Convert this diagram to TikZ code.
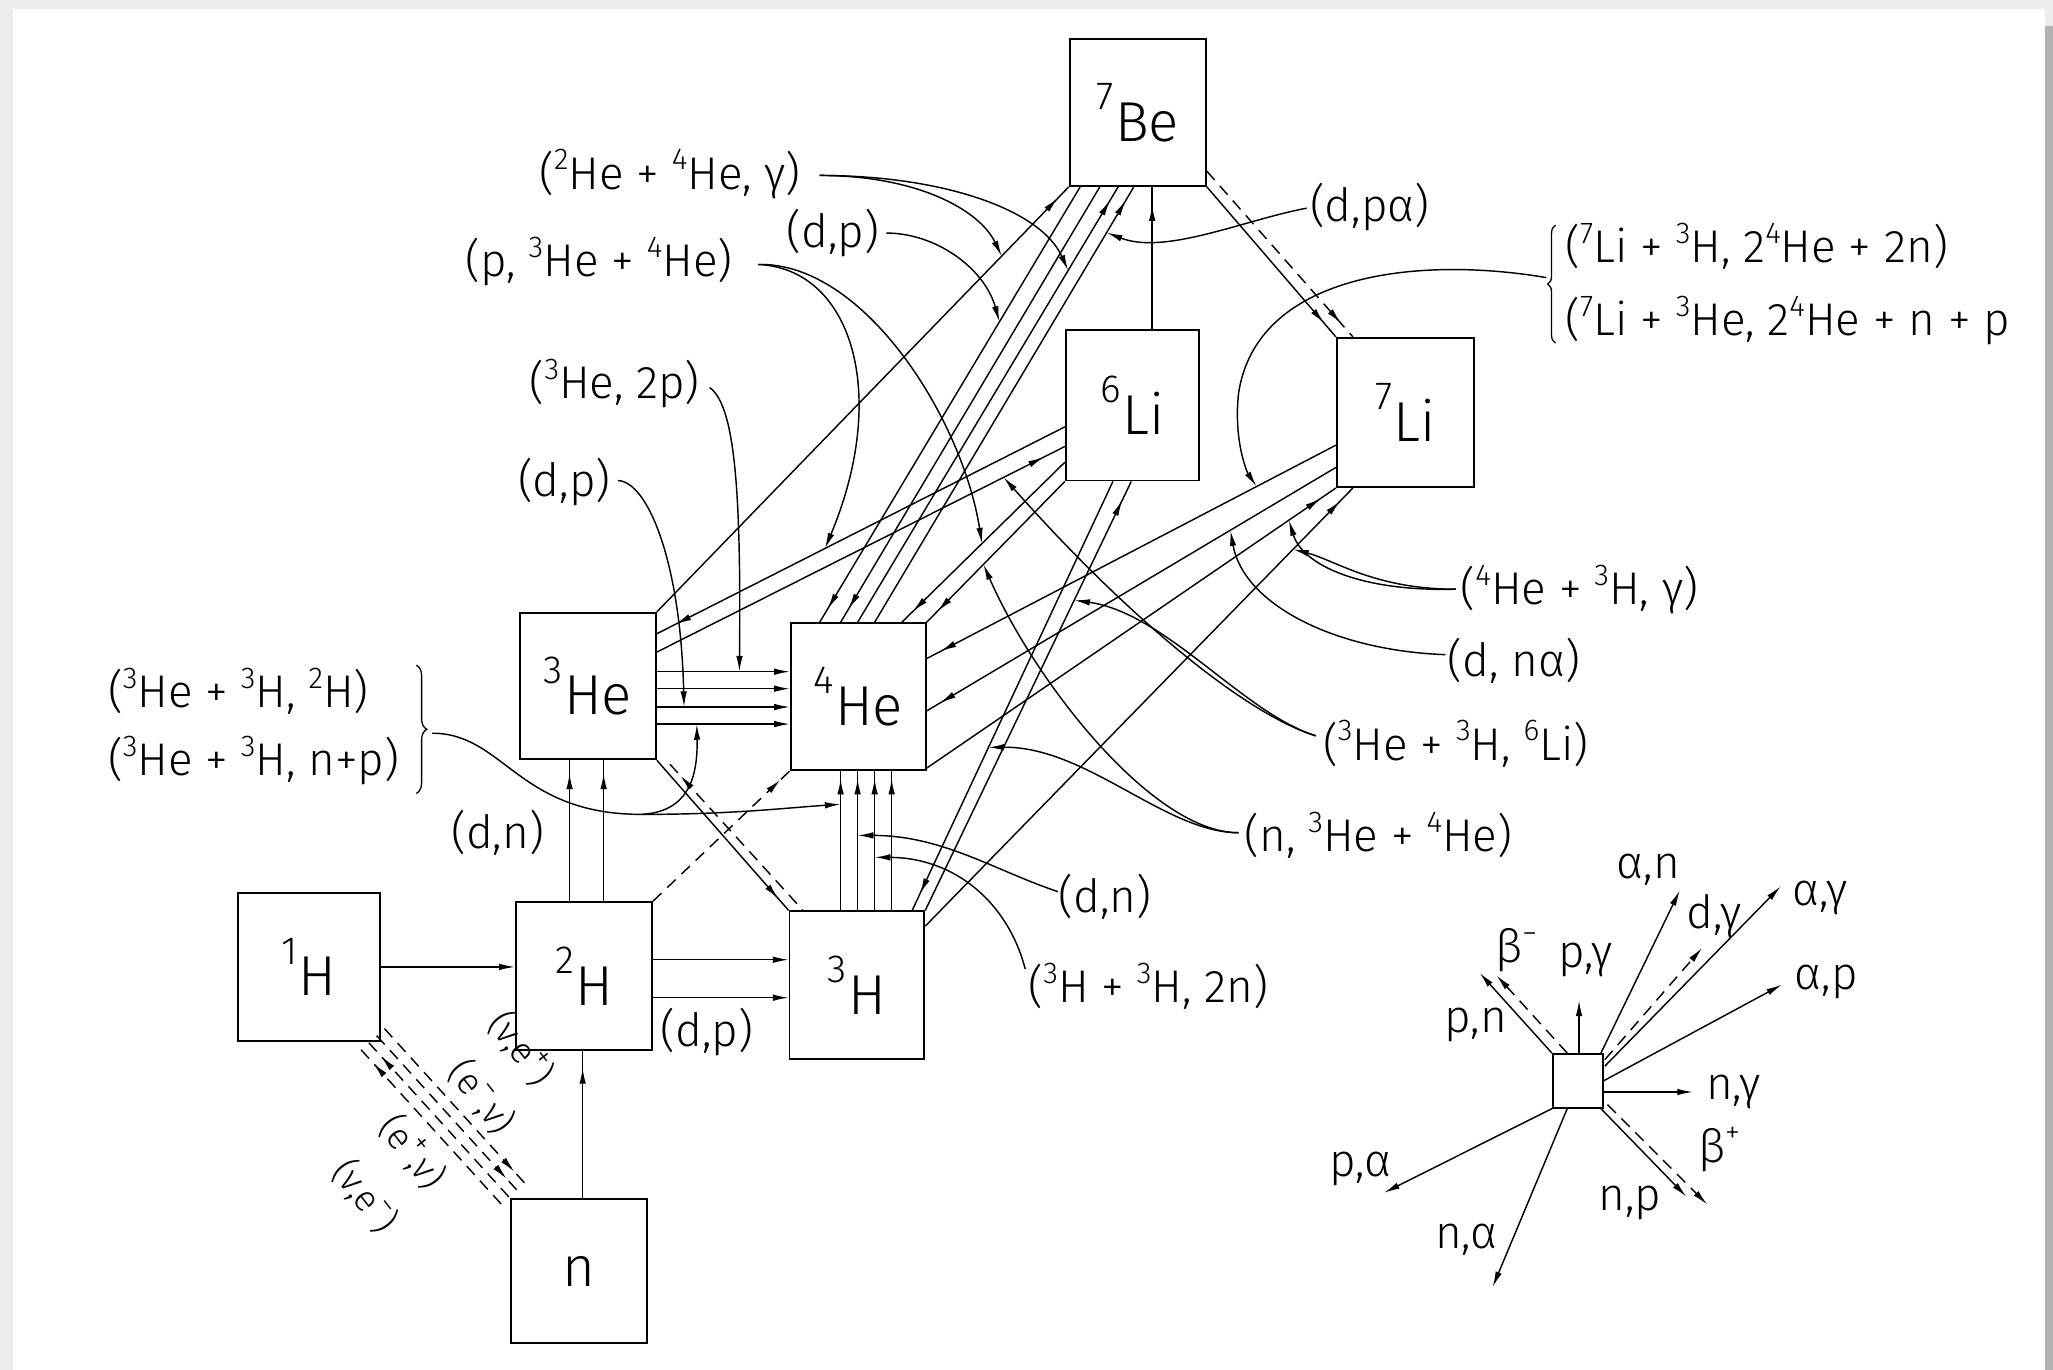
\documentclass[tikz,border=0pt]{standalone}
\usepackage{fontspec}
\setmainfont{Fira Sans Light}
\usetikzlibrary{arrows.meta,decorations.markings,decorations.pathreplacing,calc}
\newcommand{\iso}[2]{\raisebox{24pt}{\fontsize{30}{30}\selectfont #1}\kern1pt{\fontsize{43}{43}\selectfont #2}}
\newcommand{\supx}[1]{\raisebox{0.42em}{\fontsize{23}{23}\selectfont #1}}
\begin{document}
\begin{tikzpicture}[x=1pt,y=-1pt,line width=1.1pt,
 box/.style={draw,line width=1.4pt,inner sep=0pt},
 lab/.style={inner sep=0pt,font=\fontsize{35}{38}\selectfont},
 nlab/.style={inner sep=0pt,font=\fontsize{28}{30}\selectfont,rotate=-52},
 arr/.style={-{Latex[length=12pt,width=5pt]}},
 dsh/.style={dash pattern=on 9pt off 6pt},
 ahead/.style={postaction={decorate,decoration={markings,mark=at position #1 with {\arrow{Latex[length=12pt,width=5pt]}}}}},
 aback/.style={postaction={decorate,decoration={markings,mark=at position #1 with {\arrowreversed{Latex[length=12pt,width=5pt]}}}}},
]
% page background
\fill[gray!14] (0,0) rectangle (1568,1046);
\fill[white] (10,7) rectangle (1562,1046);
\fill[gray!60] (1562,20) rectangle (1568,1046);
\useasboundingbox (0,0) rectangle (1568,1046);

% boxes
\node[box,minimum width=104pt,minimum height=112pt] (be7) at (869,86) {\iso{7}{Be}};
\node[box,minimum width=102pt,minimum height=115pt] (li6) at (865,309.5) {\iso{6}{Li}};
\node[box,minimum width=105pt,minimum height=114pt] (li7) at (1073.5,315) {\iso{7}{Li}};
\node[box,minimum width=104pt,minimum height=112pt] (he3) at (449,524) {\iso{3}{He}};
\node[box,minimum width=103pt,minimum height=112pt] (he4) at (655.5,532) {\iso{4}{He}};
\node[box,minimum width=108pt,minimum height=113pt] (h1) at (236,738.5) {\iso{1}{H}};
\node[box,minimum width=104pt,minimum height=113pt] (h2) at (446,745.5) {\iso{2}{H}};
\node[box,minimum width=103pt,minimum height=113pt] (h3) at (654.5,752.5) {\iso{3}{H}};
\node[box,minimum width=104pt,minimum height=110pt] (nn) at (442,971) {\fontsize{43}{43}\selectfont n};
\node[box,minimum width=38pt,minimum height=41pt] (sm) at (1205,825.5) {};

% ---- reaction lines ----
\draw[arr] (h1.east) -- (h1.east -| h2.west);
\draw[ahead=-13pt] ($(nn.north)+(3,0)$) -- ($(h2.south)+(-1,0)$);
\draw[arr] ($(h2.east)+(0,-12.5)$) -- ($(h3.west)+(0,-19.5)$);
\draw[arr] ($(h2.east)+(0,16.5)$) -- ($(h3.west)+(0,9.5)$);
\draw[ahead=-10pt] ($(h2.north)+(-11,0)$) -- ($(he3.south)+(-14,0)$);
\draw[ahead=-10pt] ($(h2.north)+(15,0)$) -- ($(he3.south)+(12,0)$);
\draw[dsh,ahead=-10pt] (h2.north east) -- (he4.south west);
\draw[ahead=-12pt] (he3.south east) -- (h3.north west);
\draw[dsh,aback=12pt] ($(he3.south east)+(10,3)$) -- ($(h3.north west)+(11,0)$);
\foreach \a/\b in {-11/-19,2/-6,16/8,29/21}
  \draw[arr] ($(he3.east)+(0,\a)$) -- ($(he4.west)+(0,\b)$);
\foreach \a/\b in {-12.5/-13.5,0.5/-0.5,13.5/12.5,26.5/25.5}
  \draw[ahead=-6pt] ($(h3.north)+(\a,0)$) -- ($(he4.south)+(\b,0)$);
\draw[ahead=-12pt] (he3.north east) -- (be7.south west);
\draw[aback=16pt] ($(he3.east)+(0,-40)$) -- ($(li6.west)+(0,16.5)$);
\draw[ahead=-18pt] ($(he3.east)+(0,-26)$) -- ($(li6.west)+(0,31.5)$);
% 7Be <-> 4He bundle
\draw[ahead=-12pt] ($(be7.south)+(-44,0)$) -- ($(he4.north)+(-29.5,0)$);
\draw[ahead=-12pt] ($(be7.south)+(-29,0)$) -- ($(he4.north)+(-13.5,0)$);
\draw[ahead=-12pt] ($(he4.north)+(-0.5,0)$) -- ($(be7.south)+(-15,0)$);
\draw[ahead=-12pt] ($(he4.north)+(12.5,0)$) -- ($(be7.south)+(-3,0)$);
% 6Li -> 4He
\draw[ahead=-12pt] ($(li6.west)+(0,43.5)$) -- ($(he4.north east)+(-19,0)$);
\draw[ahead=-12pt] (li6.south west) -- (he4.north east);
% 6Li -> 7Be
\draw[ahead=-14pt] ($(li6.north)+(15,0)$) -- ($(be7.south)+(11,0)$);
% 7Be -> 7Li
\draw[ahead=-14pt] (be7.south east) -- (li7.north west);
\draw[dsh,ahead=-14pt] ($(be7.south east)+(0,-12)$) -- ($(li7.north west)+(13,0)$);
% 7Li <-> 4He, 3H
\draw[ahead=-12pt] ($(li7.west)+(0,25)$) -- ($(he4.east)+(0,-29)$);
\draw[ahead=-12pt] ($(li7.west)+(0,42)$) -- ($(he4.east)+(0,11)$);
\draw[ahead=-14pt] ($(he4.south east)+(0,-2)$) -- (li7.south west);
\draw[ahead=-14pt] ($(h3.north east)+(0,12)$) -- ($(li7.south west)+(13,0)$);
% 6Li <-> 3H
\draw[ahead=-14pt] ($(li6.south)+(-15,0)$) -- ($(h3.north east)+(-10,0)$);
\draw[ahead=-16pt] (h3.north east) -- ($(li6.south)+(-1,0)$);
% weak lines 1H <-> n
\draw[dsh,aback=14pt] ($(h1.south east)+(-14.9,6.1)$) -- ($(nn.north west)+(-4.9,6.1)$);
\draw[dsh,aback=14pt] ($(h1.south east)+(-9,0.7)$) -- ($(nn.north west)+(1,0.7)$);
\draw[dsh,ahead=-14pt] ($(h1.south east)+(-3,-4.7)$) -- ($(nn.north west)+(7,-4.7)$);
\draw[dsh,ahead=-14pt] ($(h1.south east)+(2.9,-10.1)$) -- ($(nn.north west)+(12.9,-10.1)$);

% ---- points on lines for pointers ----
\coordinate (pA1) at ($(he3.north east)!0.837!(be7.south west)$);
\coordinate (pA2) at ($($(he4.north)+(-0.5,0)$)!0.808!($(be7.south)+(-15,0)$)$);
\coordinate (pB) at ($($(he4.north)+(-29.5,0)$)!0.69!($(be7.south)+(-44,0)$)$);
\coordinate (pC1) at ($($(he3.east)+(0,-40)$)!0.412!($(li6.west)+(0,16.5)$)$);
\coordinate (pC2) at ($($(li6.west)+(0,43.5)$)!0.508!($(he4.north east)+(-19,0)$)$);
\coordinate (pD) at ($($(he3.east)+(0,-11)$)!0.62!($(he4.west)+(0,-19)$)$);
\coordinate (pE) at ($($(he3.east)+(0,16)$)!0.204!($(he4.west)+(0,8)$)$);
\coordinate (pF1) at ($($(h3.north)+(-12.5,0)$)!0.76!($(he4.south)+(-13.5,0)$)$);
\coordinate (pF2) at ($($(he3.east)+(0,29)$)!0.30!($(he4.west)+(0,21)$)$);
\coordinate (pG) at ($($(he4.north)+(12.5,0)$)!0.895!($(be7.south)+(-3,0)$)$);
\coordinate (pH) at ($($(li7.west)+(0,25)$)!0.194!($(he4.east)+(0,-29)$)$);
\coordinate (pI1) at ($($(h3.north east)+(0,12)$)!0.86!($(li7.south west)+(13,0)$)$);
\coordinate (pI2) at ($($(he4.south east)+(0,-2)$)!0.885!(li7.south west)$);
\coordinate (pJ) at ($($(li7.west)+(0,42)$)!0.258!($(he4.east)+(0,11)$)$);
\coordinate (pK1) at ($($(he3.east)+(0,-26)$)!0.85!($(li6.west)+(0,31.5)$)$);
\coordinate (pK2) at ($(h3.north east)!0.723!($(li6.south)+(-1,0)$)$);
\coordinate (pL1) at ($($(li6.south)+(-15,0)$)!0.62!($(h3.north east)+(-10,0)$)$);
\coordinate (pL2) at ($(li6.south west)!0.589!(he4.north east)$);
\coordinate (pM) at ($($(h3.north)+(0.5,0)$)!0.537!($(he4.south)+(-0.5,0)$)$);
\coordinate (pN) at ($($(h3.north)+(13.5,0)$)!0.38!($(he4.south)+(12.5,0)$)$);

% ---- labels ----
\node[lab,anchor=east] (lA) at (612,133) {(\supx{2}He + \supx{4}He, γ)};
\node[lab,anchor=east] (lB) at (672,178) {(d,p)};
\node[lab,anchor=east] (lC) at (560,200) {(p, \supx{3}He + \supx{4}He)};
\node[lab,anchor=east] (lD) at (535,293) {(\supx{3}He, 2p)};
\node[lab,anchor=east] (lE) at (467,368) {(d,p)};
\node[lab,anchor=west] (lF1) at (82,528) {(\supx{3}He + \supx{3}H, \supx{2}H)};
\node[lab,anchor=west] (lF2) at (82,581) {(\supx{3}He + \supx{3}H, n+p)};
\node[lab] (ldn) at (380,636) {(d,n)};
\node[lab] (ldp) at (540,788) {(d,p)};
\node[lab,anchor=west] (lG) at (1000,158) {(d,pα)};
\node[lab,anchor=west] (lH1) at (1195,188) {(\supx{7}Li + \supx{3}H, 2\supx{4}He + 2n)};
\node[lab,anchor=west] (lH2) at (1195,245) {(\supx{7}Li + \supx{3}He, 2\supx{4}He + n + p};
\node[lab,anchor=west] (lI) at (1115,450) {(\supx{4}He + \supx{3}H, γ)};
\node[lab,anchor=west] (lJ) at (1105,505) {(d, nα)};
\node[lab,anchor=west] (lK) at (1010,568) {(\supx{3}He + \supx{3}H, \supx{6}Li)};
\node[lab,anchor=west] (lL) at (950,638) {(n, \supx{3}He + \supx{4}He)};
\node[lab,anchor=west] (lM) at (808,685) {(d,n)};
\node[lab,anchor=west] (lN) at (785,753) {(\supx{3}H + \supx{3}H, 2n)};
% neutrino labels
\node[nlab] (nu1) at (398,801) {(ν,e\supx{+})};
\node[nlab] (nu2) at (368,838) {(e\supx{−},ν)};
\node[nlab] (nu3) at (315,880) {(e\supx{+},ν)};
\node[nlab] (nu4) at (279,914) {(ν,e\supx{−})};

% braces
\draw[line width=1pt,decorate,decoration={brace,amplitude=8pt}] (318,508) -- (318,606);
\coordinate (fT) at (330,560);
\draw[line width=1pt,decorate,decoration={brace,amplitude=6pt}] (1188,262) -- (1188,172);
\coordinate (hT) at (1181,212);

% ---- pointer curves ----
\draw[arr] ($(lA.east)+(14,1)$) .. controls (700,134) and (748,160) .. (pA1);
\draw[arr] ($(lA.east)+(14,1)$) .. controls (720,134) and (795,160) .. (pA2);
\draw[arr] ($(lB.east)+(5,0)$) .. controls (715,178) and (752,205) .. (pB);
\draw[arr] ($(lC.east)+(19,2)$) .. controls (650,205) and (680,300) .. (pC1);
\draw[arr] ($(lC.east)+(19,2)$) .. controls (660,200) and (735,320) .. (pC2);
\draw[arr] ($(lD.east)+(7,3)$) .. controls (562,310) and (566,380) .. (pD);
\draw[arr] ($(lE.east)+(5,-1)$) .. controls (495,368) and (520,430) .. (pE);
\coordinate (fm) at (490,622);
\draw (fT) .. controls (385,560) and (395,622) .. (fm);
\draw[arr] (fm) .. controls (560,622) and (600,617) .. (pF1);
\draw[arr] (fm) .. controls (525,620) and (533,595) .. (pF2);
\draw[arr] ($(lG.west)+(-2,1)$) .. controls (950,168) and (890,195) .. (pG);
\draw[arr] (hT) .. controls (1080,195) and (960,210) .. (946,300) .. controls (942,335) and (952,360) .. (pH);
\draw[arr] ($(lI.west)+(-3,0)$) .. controls (1050,450) and (1020,428) .. (pI1);
\draw[arr] ($(lI.west)+(-3,0)$) .. controls (1040,452) and (995,432) .. (pI2);
\draw[arr] ($(lJ.west)+(-1,-5)$) .. controls (1020,497) and (950,462) .. (pJ);
\draw[arr] ($(lK.west)+(-5,-6)$) .. controls (950,545) and (860,470) .. (pK1);
\draw[arr] ($(lK.west)+(-5,-6)$) .. controls (950,545) and (890,468) .. (pK2);
\draw[arr] ($(lL.west)+(-4,-2)$) .. controls (890,636) and (830,570) .. (pL1);
\draw[arr] ($(lL.west)+(-4,-2)$) .. controls (880,636) and (790,520) .. (pL2);
\draw[arr] ($(lM.west)+(0,-4)$) .. controls (760,665) and (720,638) .. (pM);
\draw[arr] ($(lN.west)+(-2,-13)$) .. controls (770,690) and (730,655) .. (pN);

% ---- legend ----
\coordinate (eAn) at (1283,680);
\coordinate (eDg) at (1300,724);
\coordinate (eAg) at (1360,677);
\coordinate (eAp) at (1361,752);
\coordinate (eNg) at (1293,834);
\coordinate (eBp) at (1304,920);
\coordinate (eNp) at (1288,914);
\coordinate (eNa) at (1140,983);
\coordinate (ePa) at (1057,911);
\coordinate (ePg) at (1206,764);
\coordinate (ePn) at (1130,743);
\coordinate (eBm) at (1143,745);
\draw[arr] ($(sm.north east)+(-2,0)$) -- (eAn);
\draw[arr,dsh] ($(sm.north east)+(1,5)$) -- (eDg);
\draw[arr] ($(sm.north east)+(1,10)$) -- (eAg);
\draw[arr] (sm.east) -- (eAp);
\draw[arr] ($(sm.east)+(0,8.5)$) -- (eNg);
\draw[arr,dsh] ($(sm.south east)+(3,-3)$) -- (eBp);
\draw[arr] ($(sm.south east)+(-2,0)$) -- (eNp);
\draw[arr] ($(sm.south)+(-8,0)$) -- (eNa);
\draw[arr] (sm.south west) -- (ePa);
\draw[arr] ($(sm.north)+(1,0)$) -- (ePg);
\draw[arr] (sm.north west) -- (ePn);
\draw[arr,dsh] ($(sm.north)+(-8,0)$) -- (eBm);
\node[lab] (gAn) at (1259,664) {α,n};
\node[lab] (gDg) at (1309,700) {d,γ};
\node[lab] (gAg) at (1390,686) {α,γ};
\node[lab] (gAp) at (1395,750) {α,p};
\node[lab] (gNg) at (1324,834) {n,γ};
\node[lab] (gBp) at (1313,878) {β\supx{+}};
\node[lab] (gNp) at (1245,919) {n,p};
\node[lab] (gNa) at (1120,947) {n,α};
\node[lab] (gPa) at (1039,893) {p,α};
\node[lab] (gPg) at (1211,733) {p,γ};
\node[lab] (gBm) at (1158,726) {β\supx{−}};
\node[lab] (gPn) at (1127,783) {p,n};
\end{tikzpicture}
\end{document}
